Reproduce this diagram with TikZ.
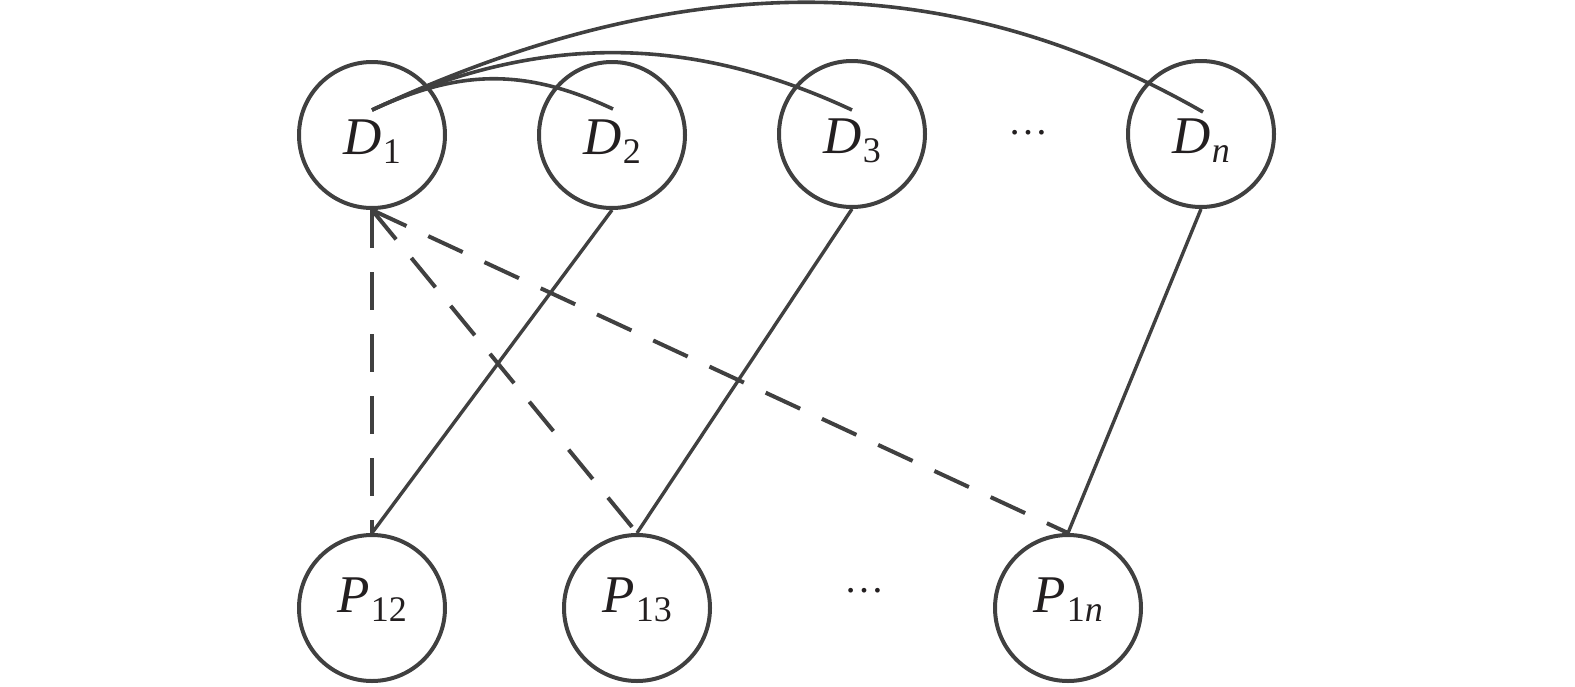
\documentclass[tikz,border=0pt]{standalone}
\usepackage{fontspec}
\setmainfont{Liberation Serif}
\newfontfamily\tms{Liberation Serif}
\usetikzlibrary{calc}
\newcommand\mylbl[2]{\tms\fontsize{26.5}{26}\selectfont\textit{#1}\kern0.8pt\raisebox{-4.75pt}{\tms\fontsize{18}{18}\selectfont #2}}
\definecolor{ln}{RGB}{64,64,64}
\definecolor{tx}{RGB}{35,31,32}
\begin{document}
\begin{tikzpicture}[x=0.5pt,y=-0.5pt,
 vert/.style={circle,draw=ln,line width=2pt,minimum size=73pt,inner sep=0pt,text=tx},
 dnode/.style={vert,text height=19pt,text depth=0pt},
 pnode/.style={vert,text height=4pt,text depth=0pt},
 solidedge/.style={draw=ln,line width=1.7pt},
 arcedge/.style={draw=ln,line width=1.8pt},
 dashedge/.style={draw=ln,line width=2pt,dash pattern=on 19pt off 12pt},
 dotsnode/.style={anchor=base,text=tx,inner sep=0pt,font=\tms\fontsize{20}{20}\selectfont}]
\useasboundingbox (0,0) rectangle (1575,686);
\node[dnode] (D1) at (372,135) {\mylbl{D}{1}};
\node[dnode] (D2) at (612,135) {\mylbl{D}{2}};
\node[dnode] (D3) at (852,134) {\mylbl{D}{3}};
\node[dnode] (Dn) at (1201,134) {\mylbl{D}{\textit{n}}};
\node[pnode] (P12) at (372,608) {\mylbl{P}{12}};
\node[pnode] (P13) at (637,608) {\mylbl{P}{13}};
\node[pnode] (P1n) at (1068,608) {\mylbl{P}{1\textit{n}}};
\node[dotsnode] (dt) at (1028,134.5) {…};
\node[dotsnode] (db) at (864,592.5) {…};
\coordinate (s1) at ($(D1.center)+(0,-25)$);
\coordinate (e2) at ($(D2.center)+(1,-26)$);
\coordinate (e3) at ($(D3.center)+(0,-24)$);
\coordinate (en) at ($(Dn.center)+(2,-22)$);
\draw[arcedge] (s1) .. controls +(88,-41) and +(-88,-41) .. (e2);
\draw[arcedge] (s1) .. controls +(165,-76) and +(-165,-77) .. (e3);
\draw[arcedge] (s1) .. controls +(309,-144) and +(-255,-146) .. (en);
\draw[solidedge] (D2.south) -- (P12.north);
\draw[solidedge] (D3.south) -- (P13.north);
\draw[solidedge] (Dn.south) -- (P1n.north);
\draw[dashedge] (D1.south) -- (P12.north);
\draw[dashedge] (D1.south) -- (P13.north);
\draw[dashedge] (D1.south) -- (P1n.north);
\end{tikzpicture}
\end{document}
